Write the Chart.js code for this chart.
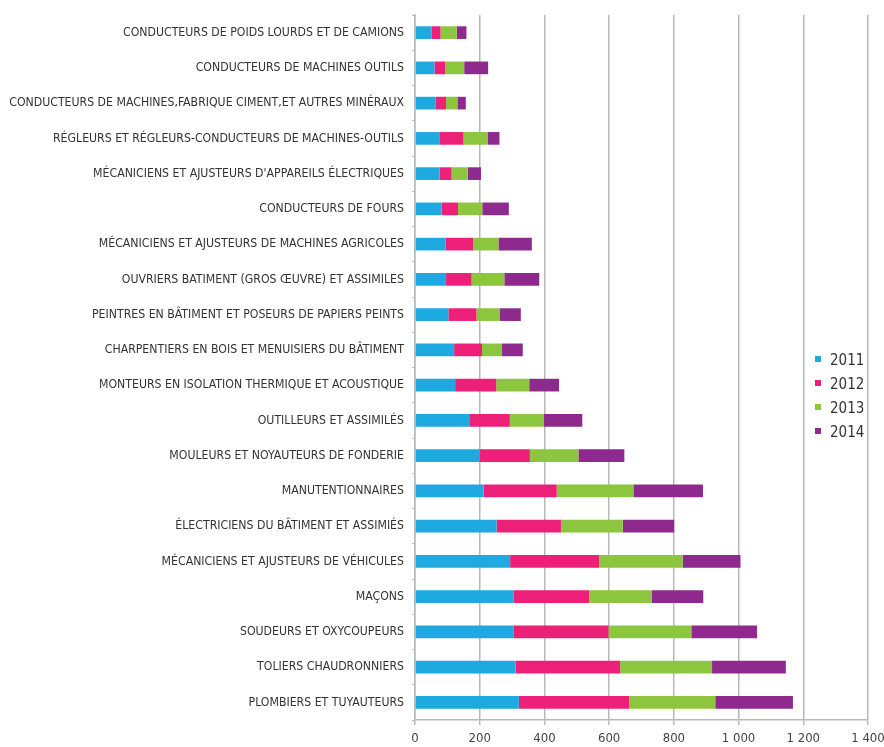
<!DOCTYPE html>
<html>
<head>
<meta charset="utf-8">
<script src="https://cdn.jsdelivr.net/npm/chart.js@4/dist/chart.umd.min.js"></script>
<style>
  html, body { margin: 0; padding: 0; background: #fff; }
  #wrap { position: relative; width: 884px; height: 747px; }
  #legend { position: absolute; left: 812px; top: 350px; font-family: "Liberation Sans Narrow", "DejaVu Sans Condensed", sans-serif; font-size: 15px; color: #333; }
  #legend div { height: 24px; line-height: 20px; white-space: nowrap; }
  #legend span.sw { display: inline-block; width: 6px; height: 6px; margin: 0 9px 0 3px; vertical-align: 3px; }
</style>
</head>
<body>
<div id="wrap">
  <canvas id="c" width="884" height="747"></canvas>
  <div id="legend"></div>
</div>
<script>
const categories = [
  "CONDUCTEURS DE POIDS LOURDS ET DE CAMIONS",
  "CONDUCTEURS DE MACHINES OUTILS",
  "CONDUCTEURS DE MACHINES,FABRIQUE CIMENT,ET AUTRES MINÉRAUX",
  "RÉGLEURS ET RÉGLEURS-CONDUCTEURS DE MACHINES-OUTILS",
  "MÉCANICIENS ET AJUSTEURS D'APPAREILS ÉLECTRIQUES",
  "CONDUCTEURS DE FOURS",
  "MÉCANICIENS ET AJUSTEURS DE MACHINES AGRICOLES",
  "OUVRIERS BATIMENT (GROS ŒUVRE) ET ASSIMILES",
  "PEINTRES EN BÂTIMENT ET POSEURS DE PAPIERS PEINTS",
  "CHARPENTIERS EN BOIS ET MENUISIERS DU BÂTIMENT",
  "MONTEURS EN ISOLATION THERMIQUE ET ACOUSTIQUE",
  "OUTILLEURS ET ASSIMILÉS",
  "MOULEURS ET NOYAUTEURS DE FONDERIE",
  "MANUTENTIONNAIRES",
  "ÉLECTRICIENS DU BÂTIMENT ET ASSIMIÉS",
  "MÉCANICIENS ET AJUSTEURS DE VÉHICULES",
  "MAÇONS",
  "SOUDEURS ET OXYCOUPEURS",
  "TOLIERS CHAUDRONNIERS",
  "PLOMBIERS ET TUYAUTEURS"
];
const seriesLabels = ["2011", "2012", "2013", "2014"];
const values2011 = [52, 60, 63, 75, 76, 82, 95, 96, 103, 121, 124, 170, 199, 212, 252, 294, 304, 304, 311, 321];
const values2012 = [27, 33, 33, 75, 37, 51, 85, 79, 87, 86, 127, 123, 156, 226, 199, 275, 234, 294, 323, 341];
const values2013 = [50, 59, 35, 74, 50, 75, 78, 101, 71, 62, 102, 104, 150, 237, 191, 258, 194, 256, 284, 266];
const values2014 = [30, 74, 26, 37, 41, 82, 103, 108, 66, 64, 92, 120, 142, 215, 159, 179, 159, 203, 228, 240];
const xTicks = [0, 200, 400, 600, 800, 1000, 1200, 1400];

const colors = ["#1FA9E1", "#EC2079", "#8CC63E", "#8E2A8E"];
const seriesValues = [values2011, values2012, values2013, values2014];

const datasets = seriesLabels.map((lab, i) => ({
  label: lab,
  data: seriesValues[i],
  backgroundColor: colors[i],
  borderWidth: 0,
  categoryPercentage: 1,
  barPercentage: 0.36
}));

const lblFont = { family: "'Liberation Sans Narrow', 'DejaVu Sans Condensed', sans-serif", size: 12.2 };

new Chart(document.getElementById('c'), {
  type: 'bar',
  data: { labels: categories, datasets },
  options: {
    indexAxis: 'y',
    responsive: false,
    animation: false,
    layout: { padding: { top: 15, right: 16, bottom: 0, left: 0 } },
    plugins: { legend: { display: false }, tooltip: { enabled: false } },
    scales: {
      x: {
        stacked: true,
        min: 0, max: 1400,
        afterBuildTicks: (s) => { s.ticks = xTicks.map(v => ({ value: v })); },
        afterFit: (s) => { s.height = 27; s.paddingRight = 0; s.paddingLeft = 0; },
        ticks: {
          color: '#444',
          font: { family: "'Liberation Sans Narrow', 'DejaVu Sans Condensed', sans-serif", size: 13 },
          padding: 6,
          maxRotation: 0,
          callback: (v) => String(v).replace(/\B(?=(\d{3})+(?!\d))/g, ' ')
        },
        grid: { color: '#B8B8B8', lineWidth: 1.5, tickLength: 5, tickColor: '#B8B8B8' },
        border: { color: '#B8B8B8', width: 1.5 }
      },
      y: {
        stacked: true,
        afterFit: (s) => { s.width = 415; s.paddingTop = 0; s.paddingBottom = 0; },
        ticks: { color: '#333', font: lblFont, padding: 8, autoSkip: false },
        grid: { offset: true, drawOnChartArea: false, tickLength: 3, color: '#B8B8B8' },
        border: { color: '#B8B8B8', width: 1.5 }
      }
    }
  }
});

const leg = document.getElementById('legend');
seriesLabels.forEach((lab, i) => {
  const d = document.createElement('div');
  const sw = document.createElement('span');
  sw.className = 'sw';
  sw.style.background = colors[i];
  d.appendChild(sw);
  d.appendChild(document.createTextNode(lab));
  leg.appendChild(d);
});
</script>
</body>
</html>
